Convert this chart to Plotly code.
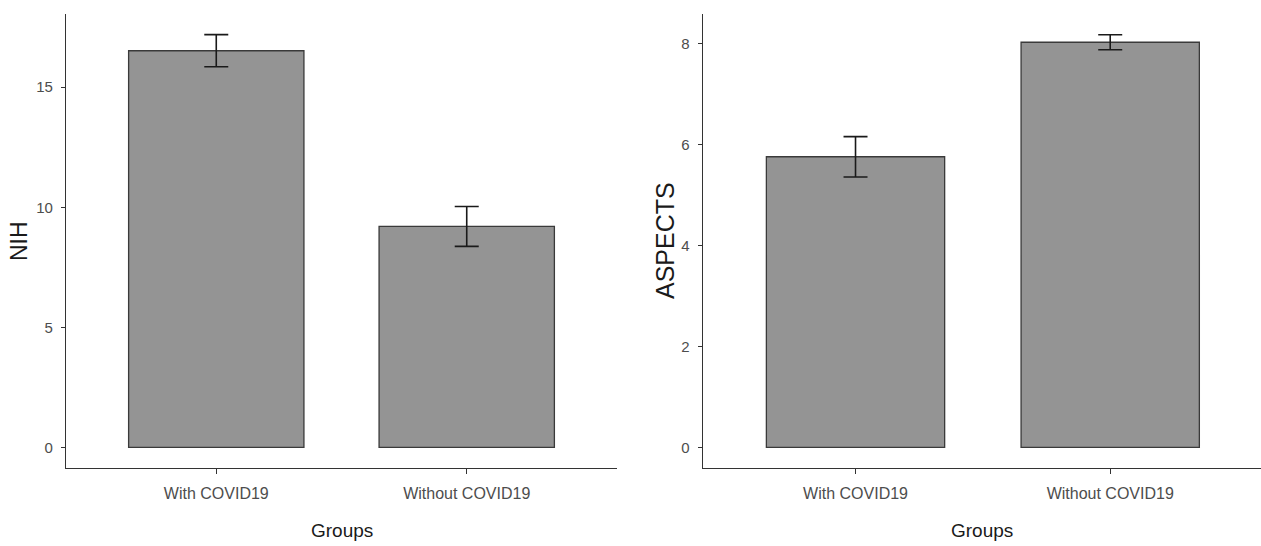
import plotly.graph_objects as go

groups = ["With COVID19", "Without COVID19"]
nih_mean = [16.52, 9.20]
nih_se = [0.67, 0.83]
aspects_mean = [5.76, 8.03]
aspects_se = [0.40, 0.15]
nih_ticks = [0, 5, 10, 15]
aspects_ticks = [0, 2, 4, 6, 8]

W, H = 1261, 546
TICKF = "Liberation Sans, Arial, sans-serif"
REG = "Liberation Sans, Arial, sans-serif"
AX = "#333333"
FILL = "#949494"

fig = go.Figure()
fig.add_trace(go.Bar(
    x=groups, y=nih_mean, width=0.7, xaxis="x", yaxis="y",
    marker=dict(color=FILL, line=dict(color="#3a3a3a", width=1.3)),
    error_y=dict(type="data", array=nih_se, visible=True, color="#1a1a1a", thickness=1.6, width=12),
    showlegend=False, hoverinfo="x+y"))
fig.add_trace(go.Bar(
    x=groups, y=aspects_mean, width=0.7, xaxis="x2", yaxis="y2",
    marker=dict(color=FILL, line=dict(color="#3a3a3a", width=1.3)),
    error_y=dict(type="data", array=aspects_se, visible=True, color="#1a1a1a", thickness=1.6, width=12),
    showlegend=False, hoverinfo="x+y"))

ydom = [(H - 468) / H, (H - 14) / H]
common_x = dict(showline=True, linecolor=AX, linewidth=1.3, ticks="outside", ticklen=5,
                tickcolor=AX, tickwidth=1.3, showgrid=False, zeroline=False,
                tickfont=dict(family=TICKF, size=16, color="#4d4d4d"), fixedrange=True,
                ticklabelstandoff=6)
common_y = dict(showline=True, linecolor=AX, linewidth=1.3, ticks="outside", ticklen=4,
                tickcolor=AX, tickwidth=1.3, showgrid=False, zeroline=False,
                tickfont=dict(family=TICKF, size=15, color="#4d4d4d"), fixedrange=True,
                ticklabelstandoff=5)

fig.update_layout(
    width=W, height=H, margin=dict(l=0, r=0, t=0, b=0),
    paper_bgcolor="white", plot_bgcolor="white",
    xaxis=dict(domain=[66 / W, 617 / W], anchor="y", range=[-0.6, 1.6], **common_x),
    yaxis=dict(domain=ydom, anchor="x", range=[-0.86, 18.05],
               tickvals=nih_ticks, **common_y),
    xaxis2=dict(domain=[702.7 / W, 1.0], anchor="y2", range=[-0.6, 1.592], **common_x),
    yaxis2=dict(domain=ydom, anchor="x2", range=[-0.41, 8.59],
                tickvals=aspects_ticks, **common_y),
    annotations=[
        dict(text="Groups", x=342 / W, y=(H - 530) / H, xref="paper", yref="paper",
             showarrow=False, xanchor="center", yanchor="middle",
             font=dict(family=REG, size=19, color="#1a1a1a")),
        dict(text="Groups", x=982 / W, y=(H - 530) / H, xref="paper", yref="paper",
             showarrow=False, xanchor="center", yanchor="middle",
             font=dict(family=REG, size=19, color="#1a1a1a")),
        dict(text="NIH", x=19 / W, y=(H - 241) / H, xref="paper", yref="paper",
             showarrow=False, xanchor="center", yanchor="middle", textangle=-90,
             font=dict(family=REG, size=23, color="#1a1a1a")),
        dict(text="ASPECTS", x=665 / W, y=(H - 241) / H, xref="paper", yref="paper",
             showarrow=False, xanchor="center", yanchor="middle", textangle=-90,
             font=dict(family=REG, size=25, color="#1a1a1a")),
    ],
)

fig.write_html("out.html", config={"displayModeBar": False},
               post_script="document.body.style.margin='0';document.body.style.padding='0';")
